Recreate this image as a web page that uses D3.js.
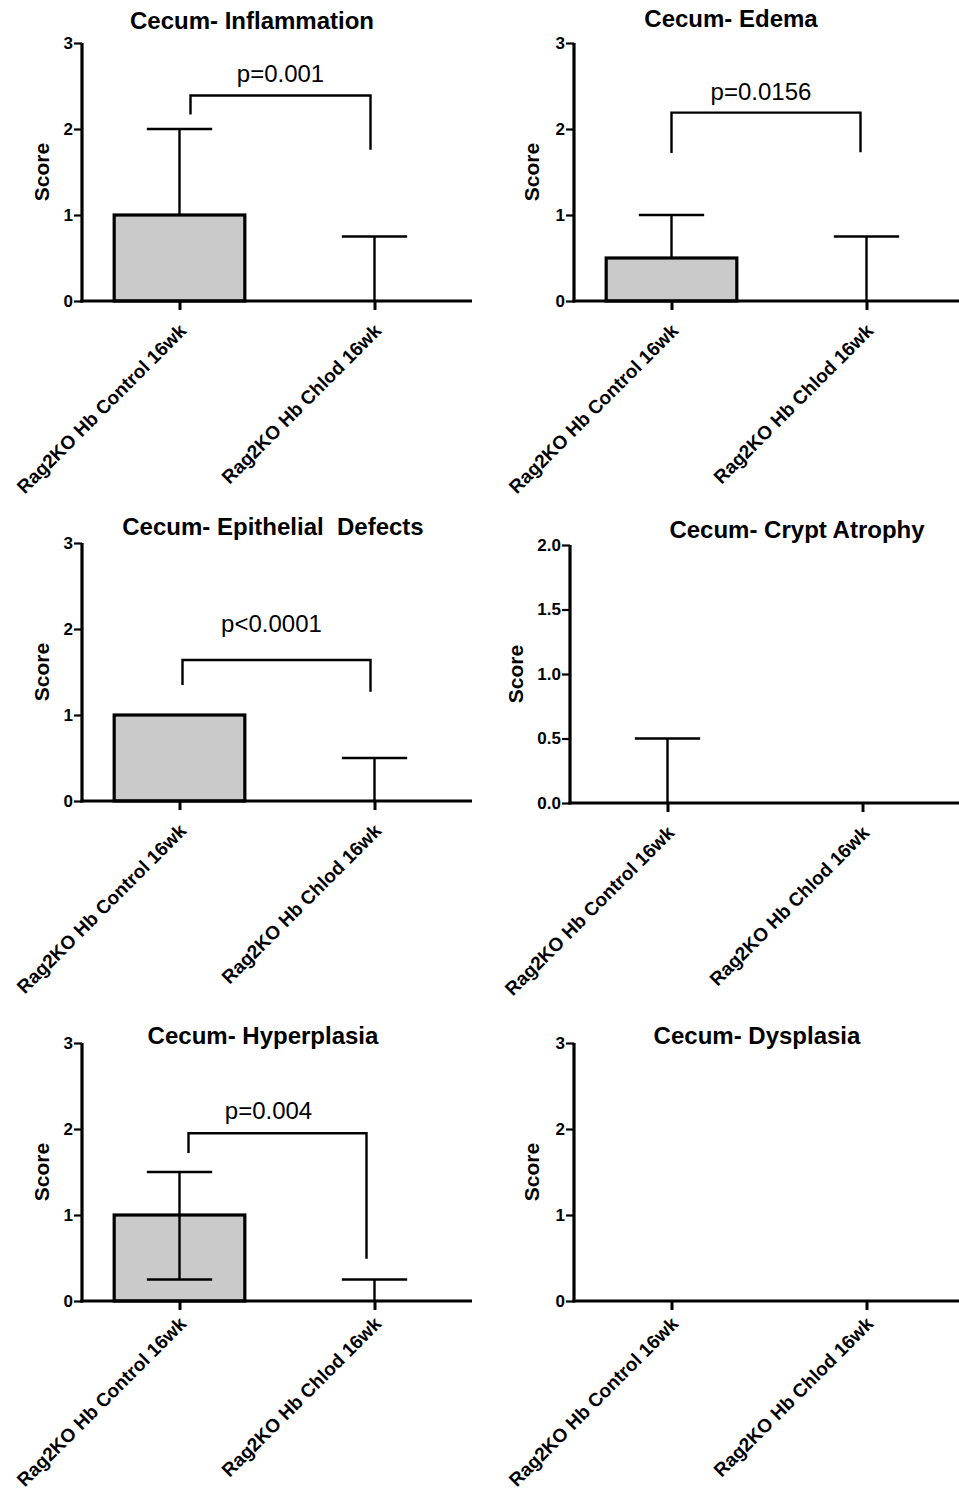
<!DOCTYPE html>
<html>
<head>
<meta charset="utf-8">
<script src="https://cdn.jsdelivr.net/npm/d3@7"></script>
<style>
  body { margin: 0; background: #fff; }
  svg { display: block; font-family: "Liberation Sans", Arial, sans-serif; }
</style>
</head>
<body>
<svg id="chart"></svg>
<script>
// --- Data ---
const categories = ["Rag2KO Hb Control 16wk", "Rag2KO Hb Chlod 16wk"];
const titles = ["Cecum- Inflammation", "Cecum- Edema", "Cecum- Epithelial\u00a0\u00a0Defects",
                "Cecum- Crypt Atrophy", "Cecum- Hyperplasia", "Cecum- Dysplasia"];
const yMaxes = [3, 3, 3, 2, 3, 3];
const yTickSteps = [1, 1, 1, 0.5, 1, 1];
const means = [[1, 0], [0.5, 0], [1, 0], [0, 0], [1, 0], [0, 0]];
const errHigh = [[2, 0.75], [1, 0.75], [1, 0.5], [0.5, 0], [1.5, 0.25], [0, 0]];
const errLow = [[null, null], [null, null], [null, null], [null, null], [0.25, null], [null, null]];
const pLabels = ["p=0.001", "p=0.0156", "p<0.0001", null, "p=0.004", null];
// bracket levels in score units: top bar, left leg end, right leg end
const bracketTop = [2.39, 2.19, 1.64, null, 1.95, null];
const bracketLeftEnd = [2.17, 1.72, 1.35, null, 1.72, null];
const bracketRightEnd = [1.76, 1.73, 1.27, null, 0.49, null];
const pLabelY = [2.55, 2.34, 1.96, null, 2.12, null];

// --- Layout (pixels) ---
const width = 959, height = 1493;
const plotW = 390, plotH = 258;
const panels = [
  {x: 82,  top: 43,   titleDx: 170, titleDy: -14, scoreDx: -40, bl: 11, br: -4, pDx: 0,  labDy: 31},
  {x: 574, top: 43,   titleDx: 157, titleDy: -16, scoreDx: -42, bl: 0,  br: -6, pDx: -5, labDy: 31},
  {x: 82,  top: 543,  titleDx: 191, titleDy: -8,  scoreDx: -40, bl: 3,  br: -4, pDx: -5, labDy: 31},
  {x: 570, top: 545,  titleDx: 227, titleDy: -7,  scoreDx: -54, bl: 0,  br: 0,  pDx: 0,  labDy: 31},
  {x: 82,  top: 1043, titleDx: 181, titleDy: 1,   scoreDx: -40, bl: 9,  br: -8, pDx: -9, labDy: 24},
  {x: 574, top: 1043, titleDx: 183, titleDy: 1,   scoreDx: -42, bl: 0,  br: 0,  pDx: 0,  labDy: 24}
];

const svg = d3.select("#chart")
    .attr("width", width)
    .attr("height", height)
    .attr("viewBox", [0, 0, width, height]);

const barFill = "#cacaca";
const ink = "#000";

panels.forEach((p, i) => {
    const g = svg.append("g").attr("transform", `translate(${p.x},${p.top})`);

    const x = d3.scalePoint()
        .domain(categories)
        .range([0, plotW])
        .padding(0.5);
    const barW = x.step() * 0.67;
    const capW = barW / 2;

    const y = d3.scaleLinear()
        .domain([0, yMaxes[i]])
        .range([plotH, 0]);

    const rows = categories.map((c, j) => ({
        cat: c, mean: means[i][j], hi: errHigh[i][j], lo: errLow[i][j]
    }));

    // bars
    g.selectAll(".bar")
      .data(rows.filter(d => d.mean > 0))
      .join("rect")
        .attr("x", d => x(d.cat) - barW / 2)
        .attr("y", d => y(d.mean))
        .attr("width", barW)
        .attr("height", d => y(0) - y(d.mean))
        .attr("fill", barFill)
        .attr("stroke", ink)
        .attr("stroke-width", 3.2);

    // error bars (upper)
    const up = rows.filter(d => d.hi > d.mean);
    g.selectAll(".err-up")
      .data(up)
      .join("line")
        .attr("x1", d => x(d.cat)).attr("x2", d => x(d.cat))
        .attr("y1", d => y(d.mean)).attr("y2", d => y(d.hi))
        .attr("stroke", ink).attr("stroke-width", 2.4);
    g.selectAll(".cap-up")
      .data(up)
      .join("line")
        .attr("x1", d => x(d.cat) - capW / 2).attr("x2", d => x(d.cat) + capW / 2)
        .attr("y1", d => y(d.hi)).attr("y2", d => y(d.hi))
        .attr("stroke", ink).attr("stroke-width", 2.4);

    // error bars (lower)
    const down = rows.filter(d => d.lo !== null);
    g.selectAll(".err-down")
      .data(down)
      .join("line")
        .attr("x1", d => x(d.cat)).attr("x2", d => x(d.cat))
        .attr("y1", d => y(d.mean)).attr("y2", d => y(d.lo))
        .attr("stroke", ink).attr("stroke-width", 2.4);
    g.selectAll(".cap-down")
      .data(down)
      .join("line")
        .attr("x1", d => x(d.cat) - capW / 2).attr("x2", d => x(d.cat) + capW / 2)
        .attr("y1", d => y(d.lo)).attr("y2", d => y(d.lo))
        .attr("stroke", ink).attr("stroke-width", 2.4);

    // y axis
    const ticks = d3.range(0, yMaxes[i] + 1e-9, yTickSteps[i]);
    g.append("g")
        .call(d3.axisLeft(y)
            .tickValues(ticks)
            .tickSize(8)
            .tickPadding(1)
            .tickFormat(yTickSteps[i] < 1 ? d3.format(".1f") : d3.format("d")))
        .call(a => a.select(".domain").attr("stroke-width", 3.2).attr("d", `M0,${plotH + 1.5}V0`))
        .call(a => a.selectAll(".tick line").attr("stroke-width", 2.2))
        .call(a => a.selectAll(".tick text")
            .attr("font-family", "Liberation Sans, Arial, sans-serif")
            .attr("font-size", 17).attr("font-weight", "bold").attr("fill", ink));

    // x axis
    g.append("g")
        .attr("transform", `translate(0,${plotH})`)
        .call(d3.axisBottom(x).tickSize(9).tickFormat(""))
        .call(a => a.select(".domain").attr("stroke-width", 3.2).attr("d", `M-1.5,0H${plotW}`))
        .call(a => a.selectAll(".tick line").attr("stroke-width", 3));

    // rotated category labels
    g.selectAll(".xlab")
      .data(categories)
      .join("text")
        .attr("transform", d => `translate(${x(d) + 8},${plotH + p.labDy}) rotate(-45)`)
        .attr("text-anchor", "end")
        .attr("font-size", 19)
        .attr("font-weight", "bold")
        .text(d => d);

    // y label
    g.append("text")
        .attr("transform", `translate(${p.scoreDx},${plotH / 2}) rotate(-90)`)
        .attr("text-anchor", "middle")
        .attr("dy", "0.35em")
        .attr("font-size", 21)
        .attr("font-weight", "bold")
        .text("Score");

    // title
    g.append("text")
        .attr("x", p.titleDx)
        .attr("y", p.titleDy)
        .attr("text-anchor", "middle")
        .attr("font-size", 24)
        .attr("font-weight", "bold")
        .text(titles[i]);

    // significance bracket
    if (pLabels[i]) {
        const xl = x(categories[0]) + p.bl;
        const xr = x(categories[1]) + p.br;
        g.append("path")
            .attr("d", `M${xl},${y(bracketLeftEnd[i])}V${y(bracketTop[i])}H${xr}V${y(bracketRightEnd[i])}`)
            .attr("fill", "none")
            .attr("stroke", ink)
            .attr("stroke-width", 2.4);
        g.append("text")
            .attr("x", (xl + xr) / 2 + p.pDx)
            .attr("y", y(pLabelY[i]))
            .attr("text-anchor", "middle")
            .attr("font-size", 24)
            .text(pLabels[i]);
    }
});
</script>
</body>
</html>
